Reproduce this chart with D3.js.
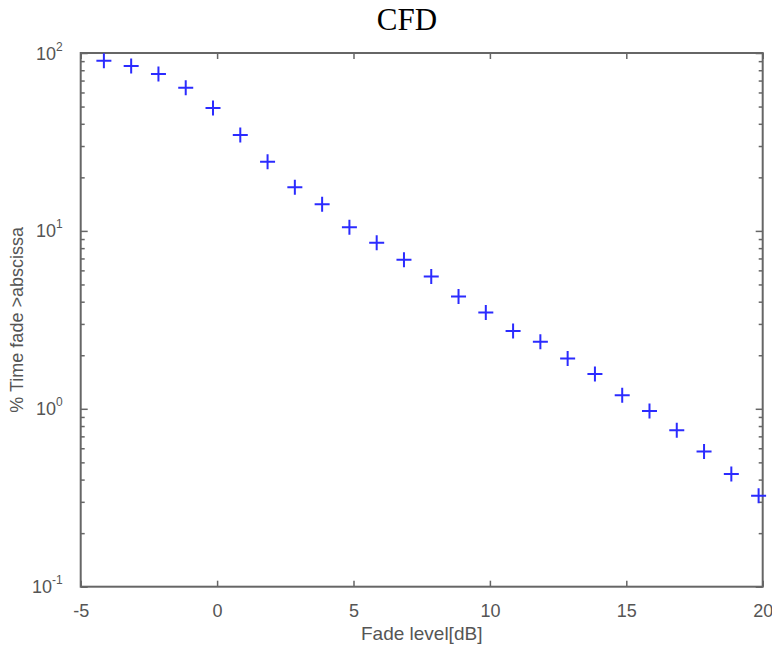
<!DOCTYPE html>
<html>
<head>
<meta charset="utf-8">
<script src="https://cdn.jsdelivr.net/npm/d3@7"></script>
<style>
  body { margin: 0; background: #fff; }
  svg { display: block; }
</style>
</head>
<body>
<svg id="chart" width="772" height="647"></svg>
<script>
// ---- data ----
const fadeLevel = [-4.15, -3.15, -2.15, -1.15, -0.15, 0.85, 1.85, 2.85, 3.85, 4.85,
                   5.85, 6.85, 7.85, 8.85, 9.85, 10.85, 11.85, 12.85, 13.85, 14.85,
                   15.85, 16.85, 17.85, 18.85, 19.85];
const percentTime = [90.6, 84.5, 76.2, 63.7, 49.0, 34.6, 24.5, 17.6, 14.1, 10.5,
                     8.57, 6.89, 5.55, 4.28, 3.48, 2.74, 2.38, 1.92, 1.57, 1.19,
                     0.973, 0.757, 0.576, 0.43, 0.324];
const xTicks = [-5, 0, 5, 10, 15, 20];
const yMajorExp = [-1, 0, 1, 2];
const titleText = "CFD";
const xLabel = "Fade level[dB]";
const yLabel = "% Time fade >abscissa";

// ---- layout ----
const svg = d3.select("#chart");
const L = 80.7, R = 762.7, T = 53, B = 586.7;
const axisColor = "#666";
const textColor = "#555";

const x = d3.scaleLinear().domain([-5, 20]).range([L, R]);
const y = d3.scaleLog().domain([0.1, 100]).range([B, T]);

const yMajor = yMajorExp.map(e => Math.pow(10, e));
const yMinor = [];
for (let e = -1; e < 2; e++) for (let m = 2; m <= 9; m++) yMinor.push(m * Math.pow(10, e));

// x axes (bottom with labels, top without)
const gxB = svg.append("g").attr("transform", `translate(0,${B})`)
  .call(d3.axisBottom(x).tickValues(xTicks).tickSize(-6).tickPadding(18).tickFormat(d => String(d)));
const gxT = svg.append("g").attr("transform", `translate(0,${T})`)
  .call(d3.axisTop(x).tickValues(xTicks).tickSize(-6).tickFormat(""));

// y axes major
const gyL = svg.append("g").attr("transform", `translate(${L},0)`)
  .call(d3.axisLeft(y).tickValues(yMajor).tickSize(-7).tickPadding(18).tickFormat(""));
const gyR = svg.append("g").attr("transform", `translate(${R},0)`)
  .call(d3.axisRight(y).tickValues(yMajor).tickSize(-7).tickFormat(""));
// y axes minor
const gyLm = svg.append("g").attr("transform", `translate(${L},0)`)
  .call(d3.axisLeft(y).tickValues(yMinor).tickSize(-4).tickFormat(""));
const gyRm = svg.append("g").attr("transform", `translate(${R},0)`)
  .call(d3.axisRight(y).tickValues(yMinor).tickSize(-4).tickFormat(""));

[gxB, gxT, gyL, gyR, gyLm, gyRm].forEach(g => {
  g.select(".domain").remove();
  g.selectAll(".tick line").attr("stroke", axisColor).attr("stroke-width", 1.5);
});

gxB.selectAll(".tick text")
  .attr("fill", textColor)
  .attr("font-family", "Liberation Sans, Arial, sans-serif")
  .attr("font-size", 18);

// y major labels: 10 with superscript exponent
gyL.selectAll(".tick").each(function(d) {
  const e = Math.round(Math.log10(d));
  const t = d3.select(this).append("text")
    .attr("x", -18).attr("y", 6)
    .attr("text-anchor", "end")
    .attr("fill", textColor)
    .attr("font-family", "Liberation Sans, Arial, sans-serif")
    .attr("font-size", 18);
  t.append("tspan").text("10");
  t.append("tspan").attr("dy", -9).attr("font-size", 12).text(String(e));
});

// frame
svg.append("rect")
  .attr("x", L).attr("y", T)
  .attr("width", R - L).attr("height", B - T)
  .attr("fill", "none")
  .attr("stroke", axisColor)
  .attr("stroke-width", 2);

// markers
const s = 7.5;
svg.append("g").selectAll("path")
  .data(fadeLevel.map((f, i) => [f, percentTime[i]]))
  .join("path")
  .attr("transform", d => `translate(${x(d[0])},${y(d[1])})`)
  .attr("d", `M${-s},0H${s}M0,${-s}V${s}`)
  .attr("stroke", "#2b2bff")
  .attr("stroke-width", 2)
  .attr("fill", "none");

// title
svg.append("text")
  .attr("x", 407).attr("y", 30)
  .attr("text-anchor", "middle")
  .attr("font-family", "Liberation Serif, Times New Roman, serif")
  .attr("font-size", 31)
  .attr("fill", "#000")
  .text(titleText);

// x label
svg.append("text")
  .attr("x", (L + R) / 2).attr("y", 640)
  .attr("text-anchor", "middle")
  .attr("font-family", "Liberation Sans, Arial, sans-serif")
  .attr("font-size", 19)
  .attr("fill", textColor)
  .text(xLabel);

// y label
svg.append("text")
  .attr("transform", `translate(23,${(T + B) / 2}) rotate(-90)`)
  .attr("text-anchor", "middle")
  .attr("font-family", "Liberation Sans, Arial, sans-serif")
  .attr("font-size", 18)
  .attr("fill", textColor)
  .text(yLabel);
</script>
</body>
</html>
